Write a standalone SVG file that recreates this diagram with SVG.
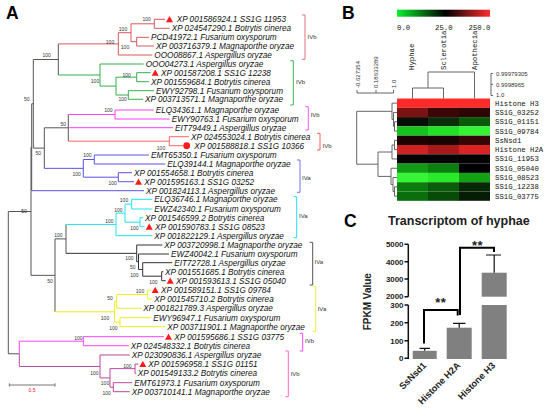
<svg xmlns="http://www.w3.org/2000/svg" width="550" height="408" viewBox="0 0 550 408">
<defs>
<linearGradient id="cbar" x1="0" y1="0" x2="1" y2="0">
<stop offset="0" stop-color="#08f02a"/><stop offset="0.52" stop-color="#000"/><stop offset="1" stop-color="#ff2d2d"/>
</linearGradient>
</defs>
<style>
.pl{font-family:"Liberation Sans",Arial,sans-serif;font-weight:bold;font-size:17.5px;fill:#000}
.lf{font-family:"Liberation Sans",Arial,sans-serif;font-style:italic;font-size:8.2px;fill:#111}
.bs{font-family:"Liberation Sans",Arial,sans-serif;font-size:5px;fill:#333;text-anchor:middle}
.gl{font-family:"Liberation Sans",Arial,sans-serif;font-size:6px;fill:#333}
.tri{fill:#ff1a1a}
.t path{fill:none;stroke-width:1}
.bk{stroke:#555}.r{stroke:#d9575a}.g{stroke:#33b04c}.m{stroke:#ff3dff}.r2{stroke:#ff6464}.b{stroke:#5d52e6}.c{stroke:#1fe3f2}.k{stroke:#333}.y{stroke:#f0ec20}.m2{stroke:#ff40ff}.p{stroke:#b8479f}
.br path{fill:none;stroke-width:1}
.mono{font-family:"Liberation Mono","DejaVu Sans Mono",monospace;font-size:7.3px;fill:#111}
.sc{font-family:"Liberation Sans",Arial,sans-serif;font-size:6px;fill:#333}
.dg{fill:none;stroke:#666;stroke-width:1}
.cb{font-family:"Liberation Sans",Arial,sans-serif;font-weight:bold;fill:#222}
.bar{fill:#808080}
.ax{fill:none;stroke:#111;stroke-width:1.5}
.eb{fill:none;stroke:#111;stroke-width:1.2}
.sg{fill:none;stroke:#000;stroke-width:2}
</style>

<!-- Panel labels -->
<text class="pl" x="6" y="18.5">A</text>
<text class="pl" x="342" y="18.5">B</text>
<text class="pl" x="344" y="227">C</text>

<!-- ===== Panel A: tree connectors ===== -->
<g id="tree-connectors" class="t">
<path class="bk" d="M8.3,211.5V353.8M8.3,211.5H31M31,147.25V275.35M31,147.25H31.7M31.7,103.8V190.7M31.7,103.8H33.3M33.3,59.5V148.1M33.3,59.5H58.3M58.3,43.9V75M33.3,148.1H44.3M44.3,127.8V168.35M44.3,127.8H68.3M68.3,114.5V141.2M31,275.35H55M55,238.9V311.8M55,238.9H66M66,224.45V253.35M8.3,353.8H19.3"/>
<path class="r" d="M58.3,43.9H118.3M118.3,32.7V55M118.3,55H152.3M118.3,32.7H131M131,23.8V41.65M131,23.8H154.3M154.3,19.3V28.3M154.3,19.3H165M154.3,28.3H169.7M131,41.65H136.7M136.7,37.3V46M136.7,37.3H149M136.7,46H154"/>
<path class="g" d="M58.3,75H100M100,64V86.1M100,64H143.7M100,86.1H116M116,77.2V95M116,77.2H136.7M136.7,72.7V81.7M136.7,72.7H150.7M136.7,81.7H149M116,95H128.3M128.3,90.7V99.3M128.3,90.7H154M128.3,99.3H143"/>
<path class="m" d="M68.3,114.5H115M115,110V119M115,110H153.7M115,119H169.7M68.3,127.7H173"/>
<path class="r2" d="M68.3,141.2H169.3M169.3,136.7V145.7M169.3,136.7H189M169.3,145.7H183"/>
<path class="b" d="M44.3,168.35H83.3M83.3,159.5V177.2M83.3,159.5H94.3M94.3,155V164M94.3,155H149M94.3,164H165.3M83.3,177.2H118.3M118.3,172.7V181.7M118.3,172.7H132M118.3,181.7H134M31.7,190.7H144"/>
<path class="c" d="M66,224.45H116M116,213.2V235.7M116,235.7H152.3M116,213.2H125M125,204.15V222.2M125,204.15H131.7M131.7,199.3V209M131.7,199.3H152.3M131.7,209H152.3M125,222.2H140M140,217.7V226.7M140,217.7H143M140,226.7H144.7"/>
<path class="k" d="M66,253.35H136.7M136.7,245V261.7M136.7,245H162.3M136.7,261.7H138.5M138.5,254V269.45M138.5,254H169M138.5,269.45H142.7M142.7,262.7V276.2M142.7,262.7H172.3M142.7,276.2H161.7M161.7,271.7V280.7M161.7,271.7H163.3M161.7,280.7H165.7"/>
<path class="y" d="M55,311.8H114.5M114.5,301.4V322.2M114.5,301.4H116.7M116.7,294.5V308.3M116.7,308.3H141.3M116.7,294.5H147.7M147.7,290V299M147.7,290H150.7M147.7,299H152.3M114.5,322.2H120M120,317.7V326.7M120,317.7H151.3M120,326.7H165.3"/>
<path class="m2" d="M19.3,341.2V353.8M19.3,341.2H83.3M83.3,336.7V345.7M83.3,336.7H164M83.3,345.7H128.7"/>
<path class="p" d="M19.3,353.8V366.45M19.3,366.45H100M100,355V377.9M100,355H129.7M100,377.9H110M110,368.65V387.2M110,368.65H135M135,364V373.3M135,364H138.3M135,373.3H136.2M110,387.2H113.3M113.3,382.7V391.7M113.3,382.7H132.3M113.3,391.7H129.7"/>
</g>

<!-- bootstrap values -->
<g id="bootstrap">
<text class="bs" x="46.7" y="56.8">100</text>
<text class="bs" x="110" y="43.5">100</text>
<text class="bs" x="123" y="30.8">100</text>
<text class="bs" x="146.7" y="21.1">100</text>
<text class="bs" x="125" y="48.5">100</text>
<text class="bs" x="95" y="82.5">100</text>
<text class="bs" x="126.7" y="76.8">100</text>
<text class="bs" x="122.7" y="101.1">100</text>
<text class="bs" x="26.7" y="101.1">50</text>
<text class="bs" x="108.3" y="111.8">100</text>
<text class="bs" x="63.3" y="125.8">50</text>
<text class="bs" x="161" y="149.5">100</text>
<text class="bs" x="38.3" y="155.1">50</text>
<text class="bs" x="87.3" y="156.8">100</text>
<text class="bs" x="76.7" y="175.8">100</text>
<text class="bs" x="112.7" y="185.1">100</text>
<text class="bs" x="124" y="201.8">100</text>
<text class="bs" x="118.3" y="211.8">100</text>
<text class="bs" x="109.3" y="222.8">100</text>
<text class="bs" x="134.3" y="229.5">100</text>
<text class="bs" x="58.3" y="236.8">100</text>
<text class="bs" x="24" y="212.8">50</text>
<text class="bs" x="129.3" y="260.1">100</text>
<text class="bs" x="132.7" y="268.5">50</text>
<text class="bs" x="134.3" y="276.8">100</text>
<text class="bs" x="153.3" y="284.1">100</text>
<text class="bs" x="50" y="282.8">50</text>
<text class="bs" x="140" y="292.8">100</text>
<text class="bs" x="110" y="300.1">50</text>
<text class="bs" x="105" y="319.5">100</text>
<text class="bs" x="113.3" y="329.5">100</text>
<text class="bs" x="78.3" y="340.1">100</text>
<text class="bs" x="127.3" y="367.5">100</text>
<text class="bs" x="94.3" y="374.5">100</text>
<text class="bs" x="105" y="385.1">100</text>
<text class="bs" x="106.7" y="394.5">100</text>
</g>

<!-- leaves -->
<g id="leaf-01"><polygon class="tri" points="166,22.3 173,22.3 169.5,16"/><text class="lf" x="176.7" y="22.2">XP 001586924.1 SS1G 11953</text></g>
<g id="leaf-02"><text class="lf" x="171.7" y="31.2">XP 024547290.1 Botrytis cinerea</text></g>
<g id="leaf-03"><text class="lf" x="151" y="40.2">PCD41972.1 Fusarium oxysporum</text></g>
<g id="leaf-04"><text class="lf" x="156" y="48.9">XP 003716379.1 Magnaporthe oryzae</text></g>
<g id="leaf-05"><text class="lf" x="154.3" y="57.9">OOO08867.1 Aspergillus oryzae</text></g>
<g id="leaf-06"><text class="lf" x="145.7" y="66.9">OOO04273.1 Aspergillus oryzae</text></g>
<g id="leaf-07"><polygon class="tri" points="151.7,75.7 158.7,75.7 155.2,69.4"/><text class="lf" x="161" y="75.6">XP 001587208.1 SS1G 12238</text></g>
<g id="leaf-08"><text class="lf" x="151" y="84.6">XP 001559684.1 Botrytis cinerea</text></g>
<g id="leaf-09"><text class="lf" x="156" y="93.6">EWY92798.1 Fusarium oxysporum</text></g>
<g id="leaf-10"><text class="lf" x="145" y="102.2">XP 003713571.1 Magnaporthe oryzae</text></g>
<g id="leaf-11"><text class="lf" x="155.7" y="112.9">ELQ34361.1 Magnaporthe oryzae</text></g>
<g id="leaf-12"><text class="lf" x="171.7" y="121.9">EWY90763.1 Fusarium oxysporum</text></g>
<g id="leaf-13"><text class="lf" x="175" y="130.6">EIT79449.1 Aspergillus oryzae</text></g>
<g id="leaf-14"><text class="lf" x="191" y="139.6">XP 024553024.1 Botrytis cinerea</text></g>
<g id="leaf-15"><circle cx="186.7" cy="145.7" r="3.4" fill="#ff1a1a"/><text class="lf" x="194.3" y="148.6">XP 001588818.1 SS1G 10366</text></g>
<g id="leaf-16"><text class="lf" x="151" y="157.9">EMT65350.1 Fusarium oxysporum</text></g>
<g id="leaf-17"><text class="lf" x="167.3" y="166.9">ELQ39144.1 Magnaporthe oryzae</text></g>
<g id="leaf-18"><text class="lf" x="134" y="175.6">XP 001554658.1 Botrytis cinerea</text></g>
<g id="leaf-19"><polygon class="tri" points="135,184.7 142,184.7 138.5,178.4"/><text class="lf" x="144.3" y="184.6">XP 001595163.1 SS1G 03252</text></g>
<g id="leaf-20"><text class="lf" x="146" y="193.6">XP 001824113.1 Aspergillus oryzae</text></g>
<g id="leaf-21"><text class="lf" x="154.3" y="202.2">ELQ36746.1 Magnaporthe oryzae</text></g>
<g id="leaf-22"><text class="lf" x="154.3" y="211.9">EWZ42340.1 Fusarium oxysporum</text></g>
<g id="leaf-23"><text class="lf" x="145" y="220.6">XP 001546599.2 Botrytis cinerea</text></g>
<g id="leaf-24"><polygon class="tri" points="145.7,229.7 152.7,229.7 149.2,223.4"/><text class="lf" x="155" y="229.6">XP 001590783.1 SS1G 08523</text></g>
<g id="leaf-25"><text class="lf" x="154.3" y="238.6">XP 001822129.1 Aspergillus oryzae</text></g>
<g id="leaf-26"><text class="lf" x="164.3" y="247.9">XP 003720998.1 Magnaporthe oryzae</text></g>
<g id="leaf-27"><text class="lf" x="171" y="256.9">EWZ40042.1 Fusarium oxysporum</text></g>
<g id="leaf-28"><text class="lf" x="174.3" y="265.6">EIT72728.1 Aspergillus oryzae</text></g>
<g id="leaf-29"><text class="lf" x="165" y="274.6">XP 001551685.1 Botrytis cinerea</text></g>
<g id="leaf-30"><polygon class="tri" points="166.7,283.7 173.7,283.7 170.2,277.4"/><text class="lf" x="176" y="283.6">XP 001593613.1 SS1G 05040</text></g>
<g id="leaf-31"><polygon class="tri" points="151.7,293 158.7,293 155.2,286.7"/><text class="lf" x="161" y="292.9">XP 001589151.1 SS1G 09784</text></g>
<g id="leaf-32"><text class="lf" x="154.3" y="301.9">XP 001545710.2 Botrytis cinerea</text></g>
<g id="leaf-33"><text class="lf" x="143.3" y="311.2">XP 001821789.3 Aspergillus oryzae</text></g>
<g id="leaf-34"><text class="lf" x="153.3" y="320.6">EWY96947.1 Fusarium oxysporum</text></g>
<g id="leaf-35"><text class="lf" x="167.3" y="329.6">XP 003711901.1 Magnaporthe oryzae</text></g>
<g id="leaf-36"><polygon class="tri" points="165,339.7 172,339.7 168.5,333.4"/><text class="lf" x="174.3" y="339.6">XP 001595686.1 SS1G 03775</text></g>
<g id="leaf-37"><text class="lf" x="130.7" y="348.6">XP 024548332.1 Botrytis cinerea</text></g>
<g id="leaf-38"><text class="lf" x="131.7" y="357.9">XP 023090836.1 Aspergillus oryzae</text></g>
<g id="leaf-39"><polygon class="tri" points="139.3,367 146.3,367 142.8,360.7"/><text class="lf" x="148.3" y="366.9">XP 001596958.1 SS1G 01151</text></g>
<g id="leaf-40"><text class="lf" x="137.7" y="376.2">XP 001549133.2 Botrytis cinerea</text></g>
<g id="leaf-41"><text class="lf" x="134.3" y="385.6">EMT61973.1 Fusarium oxysporum</text></g>
<g id="leaf-42"><text class="lf" x="131.7" y="394.6">XP 003710141.1 Magnaporthe oryzae</text></g>

<!-- group brackets -->
<g id="group-brackets" class="br">
<path stroke="#e0707a" d="M302,15H305V59.3H302"/>
<path stroke="#3cb55a" d="M290.3,60.7H293.3V105H290.3"/>
<path stroke="#ff55ff" d="M305.3,106.7H308.3V130H305.3"/>
<path stroke="#ff5a5a" d="M317,133.3H320V150H317"/>
<path stroke="#7b6ff0" d="M297,160H300V192.3H297"/>
<path stroke="#22e0f0" d="M293.7,196.7H296.7V237.7H293.7"/>
<path stroke="#555" d="M309.7,242.3H312.7V285H309.7"/>
<path stroke="#eeee44" d="M312.7,286.7H315.7V331.7H312.7"/>
<path stroke="#ff44ff" d="M299.7,333.3H302.7V351H299.7"/>
<path stroke="#ff66cc" d="M285.3,351H288.3V396.7H285.3"/>
</g>
<g id="group-labels">
<text class="gl" x="307.5" y="39">IVb</text>
<text class="gl" x="296" y="84">IVb</text>
<text class="gl" x="310.7" y="117">IVb</text>
<text class="gl" x="322.5" y="148">IVb</text>
<text class="gl" x="302" y="180">IVa</text>
<text class="gl" x="299" y="218">IVa</text>
<text class="gl" x="314.5" y="264">IVa</text>
<text class="gl" x="317.7" y="311">IVa</text>
<text class="gl" x="305" y="343">IVb</text>
<text class="gl" x="290.7" y="376">IVb</text>
</g>

<!-- scale bar -->
<g id="scale-bar">
<path d="M9.3,385H55M9.3,383.3V386.7M55,383.3V386.7" fill="none" stroke="#777" stroke-width="1"/>
<text x="32" y="392" font-family="Liberation Sans, Arial, sans-serif" font-size="5px" fill="#ff2020" text-anchor="middle">0.5</text>
</g>

<!-- ===== Panel B: heatmap ===== -->
<g id="colour-key">
<rect x="397" y="9.7" width="93" height="7" fill="url(#cbar)"/>
<text class="mono" x="397" y="30">0.0</text>
<text class="mono" x="435" y="30">25.0</text>
<text class="mono" x="468.5" y="30">250.0</text>
</g>
<g id="column-labels">
<text class="mono" transform="translate(414,70) rotate(-90)">Hyphae</text>
<text class="mono" transform="translate(446,70) rotate(-90)">Sclerotia</text>
<text class="mono" transform="translate(477,70) rotate(-90)">Apothecia</text>
</g>
<g id="column-dendrogram">
<path class="dg" d="M412.5,98.5V88H443.5V98.5M428,88V72H474.5V98.5"/>
<path class="dg" d="M491,73.5V95.5M491,73.5H493M491,84.3H493M491,95.5H493"/>
<text class="sc" x="496" y="75.8">0.99979305</text>
<text class="sc" x="496" y="86.5">0.9998965</text>
<text class="sc" x="496" y="97">1.0</text>
</g>
<g id="row-dendrogram">
<path class="dg" d="M357,93H393.5M357,93V90M376,93V90M393.5,93V90"/>
<text class="sc" transform="translate(360,88) rotate(-90)">-0.627354</text>
<text class="sc" transform="translate(378,88) rotate(-90)">0.18633289</text>
<text class="sc" transform="translate(395.5,88) rotate(-90)">1.0</text>
<path class="dg" d="M397,121.75H394.5M397,131.05H394.5M394.5,121.75V131.05M397,112.45H393.5M394.5,126.4H393.5M393.5,112.45V126.4M397,103.15H392M393.5,119.4H392M392,103.15V119.4M392,111.3H356.7"/>
<path class="dg" d="M397,140.35H394.5M397,149.65H394.5M394.5,140.35V149.65M394.5,145H392M397,158.95H392M392,145V158.95M397,186.85H394.5M397,196.15H394.5M394.5,186.85V196.15M397,177.55H393M394.5,191.5H393M393,177.55V191.5M397,168.25H391M393,184.5H391M391,168.25V184.5M392,152H378M391,176.4H378M378,152V176.4M378,164.2H356.7M356.7,111.3V164.2"/>
</g>
<g id="heatmap-cells">
<rect x="397" y="98.5" width="31" height="9.3" fill="#ff2a2a"/><rect x="428" y="98.5" width="31" height="9.3" fill="#ff2a2a"/><rect x="459" y="98.5" width="31" height="9.3" fill="#ff2a2a"/>
<rect x="397" y="107.8" width="31" height="9.3" fill="#7d1212"/><rect x="428" y="107.8" width="31" height="9.3" fill="#3c0606"/><rect x="459" y="107.8" width="31" height="9.3" fill="#2e0404"/>
<rect x="397" y="117.1" width="31" height="9.3" fill="#060e06"/><rect x="428" y="117.1" width="31" height="9.3" fill="#0a2e0a"/><rect x="459" y="117.1" width="31" height="9.3" fill="#0b5a0b"/>
<rect x="397" y="126.4" width="31" height="9.3" fill="#14c41c"/><rect x="428" y="126.4" width="31" height="9.3" fill="#22e026"/><rect x="459" y="126.4" width="31" height="9.3" fill="#34f534"/>
<rect x="397" y="135.7" width="31" height="9.3" fill="#1e0202"/><rect x="428" y="135.7" width="31" height="9.3" fill="#180202"/><rect x="459" y="135.7" width="31" height="9.3" fill="#360606"/>
<rect x="397" y="145" width="31" height="9.3" fill="#cf2222"/><rect x="428" y="145" width="31" height="9.3" fill="#a81a1a"/><rect x="459" y="145" width="31" height="9.3" fill="#da2424"/>
<rect x="397" y="154.3" width="31" height="9.3" fill="#040404"/><rect x="428" y="154.3" width="31" height="9.3" fill="#050505"/><rect x="459" y="154.3" width="31" height="9.3" fill="#020202"/>
<rect x="397" y="163.6" width="31" height="9.3" fill="#119a14"/><rect x="428" y="163.6" width="31" height="9.3" fill="#0c800e"/><rect x="459" y="163.6" width="31" height="9.3" fill="#020202"/>
<rect x="397" y="172.9" width="31" height="9.3" fill="#36f536"/><rect x="428" y="172.9" width="31" height="9.3" fill="#2ae82a"/><rect x="459" y="172.9" width="31" height="9.3" fill="#12a214"/>
<rect x="397" y="182.2" width="31" height="9.3" fill="#0b7c0d"/><rect x="428" y="182.2" width="31" height="9.3" fill="#0a5c0a"/><rect x="459" y="182.2" width="31" height="9.3" fill="#062806"/>
<rect x="397" y="191.5" width="31" height="9.3" fill="#0a6e0c"/><rect x="428" y="191.5" width="31" height="9.3" fill="#084a08"/><rect x="459" y="191.5" width="31" height="9.3" fill="#051c05"/>
</g>
<g id="row-labels">
<text class="mono" x="495" y="105.6">Histone H3</text>
<text class="mono" x="495" y="114.9">SS1G_03252</text>
<text class="mono" x="495" y="124.2">SS1G_01151</text>
<text class="mono" x="495" y="133.5">SS1G_09784</text>
<text class="mono" x="495" y="142.8">SsNsd1</text>
<text class="mono" x="495" y="152.1">Histone H2A</text>
<text class="mono" x="495" y="161.4">SS1G_11953</text>
<text class="mono" x="495" y="170.7">SS1G_05040</text>
<text class="mono" x="495" y="180">SS1G_08523</text>
<text class="mono" x="495" y="189.3">SS1G_12238</text>
<text class="mono" x="495" y="198.6">SS1G_03775</text>
</g>

<!-- ===== Panel C: bar chart ===== -->
<text class="cb" x="388" y="224.5" font-size="12.5px">Transcriptom of hyphae</text>
<g id="y-axis">
<path class="ax" d="M408.3,244.3V296.7M408.3,305V359M404.5,244.3H408.3M404.5,261.7H408.3M404.5,279H408.3M404.5,296.7H408.3M404.5,305H408.3M404.5,322.7H408.3M404.5,340.7H408.3M404.5,358.3H408.3"/>
<g class="cb" font-size="7.9px" text-anchor="end">
<text x="403.5" y="247.2">5000</text>
<text x="403.5" y="264.6">4000</text>
<text x="403.5" y="281.9">3000</text>
<text x="403.5" y="299.2">2000</text>
<text x="403.5" y="308.3">300</text>
<text x="403.5" y="325.6">200</text>
<text x="403.5" y="343.6">100</text>
<text x="403.5" y="361.2">0</text>
</g>
<text class="cb" font-size="10px" text-anchor="middle" transform="translate(371,301.7) rotate(-90)">FPKM Value</text>
</g>
<g id="bar-SsNsd1">
<rect class="bar" x="412.7" y="350.8" width="24" height="8.2"/>
<path class="eb" d="M424.7,350.8V348.3M419.5,348.3H430"/>
<text class="cb" font-size="9.3px" text-anchor="end" transform="translate(427,366) rotate(-45)">SsNsd1</text>
</g>
<g id="bar-HistoneH2A">
<rect class="bar" x="446.7" y="327.7" width="25" height="31.3"/>
<path class="eb" d="M459.2,327.7V323.3M453,323.3H465.5"/>
<text class="cb" font-size="9.3px" text-anchor="end" transform="translate(461,366) rotate(-45)">Histone H2A</text>
</g>
<g id="bar-HistoneH3">
<rect class="bar" x="481.7" y="305" width="25" height="54"/>
<rect class="bar" x="481.7" y="272.7" width="25" height="24"/>
<path class="eb" d="M494.2,272.7V255M486,255H501"/>
<text class="cb" font-size="9.3px" text-anchor="end" transform="translate(496,366) rotate(-45)">Histone H3</text>
</g>
<g id="significance">
<path class="sg" d="M424,343.5V310H457.7V315.5"/>
<path class="sg" d="M460,315V247.7H494V252"/>
<text class="cb" font-size="13px" text-anchor="middle" x="440.8" y="307" letter-spacing="0.5">**</text>
<text class="cb" font-size="13px" text-anchor="middle" x="477.5" y="250" letter-spacing="0.5">**</text>
</g>
</svg>
